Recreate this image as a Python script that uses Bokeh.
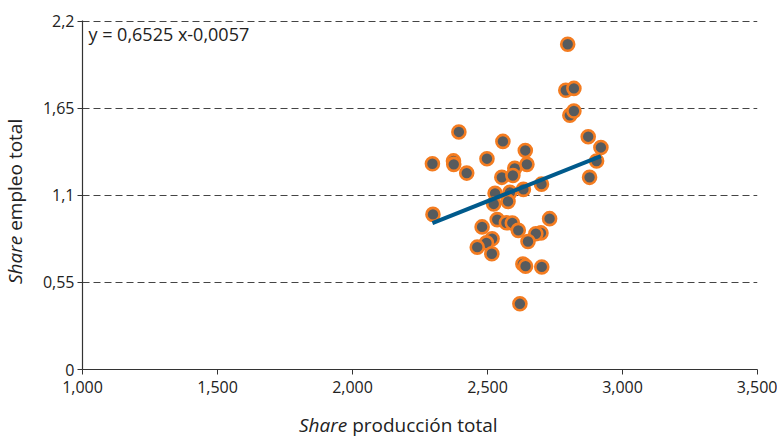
import numpy as np
from bokeh.plotting import figure
from bokeh.models import Label, FixedTicker, CustomJSTickFormatter, Range1d, Div
from bokeh.layouts import row, column
from bokeh.embed import file_html
from bokeh.resources import INLINE

# Data
share_produccion = [2.797, 2.790, 2.820, 2.805, 2.820, 2.394, 2.557, 2.873, 2.920, 2.640,
                    2.296, 2.374, 2.375, 2.423, 2.498, 2.601, 2.646, 2.553, 2.594, 2.904,
                    2.878, 2.700, 2.633, 2.583, 2.528, 2.298, 2.523, 2.576, 2.480, 2.536,
                    2.570, 2.592, 2.614, 2.730, 2.698, 2.679, 2.650, 2.517, 2.496, 2.462,
                    2.516, 2.631, 2.641, 2.701, 2.620]
share_empleo = [2.055, 1.764, 1.776, 1.606, 1.633, 1.501, 1.441, 1.471, 1.403, 1.384,
                1.300, 1.318, 1.296, 1.241, 1.332, 1.271, 1.296, 1.214, 1.226, 1.317,
                1.214, 1.171, 1.138, 1.119, 1.113, 0.980, 1.046, 1.062, 0.901, 0.947,
                0.927, 0.926, 0.879, 0.953, 0.863, 0.858, 0.809, 0.826, 0.800, 0.773,
                0.731, 0.667, 0.653, 0.648, 0.415]
x_ticks = [1.0, 1.5, 2.0, 2.5, 3.0, 3.5]
y_ticks = [0, 0.55, 1.1, 1.65, 2.2]
equation = "y = 0,6525 x-0,0057"
x_label = ("Share", "producción total")
y_label = ("Share", "empleo total")

FONT = "Open Sans"
TXT = "#222222"

p = figure(width=747, height=400, output_backend="svg", toolbar_location=None,
           x_range=Range1d(1.0, 3.5), y_range=Range1d(0, 2.205),
           min_border_left=52, min_border_right=20, min_border_top=20, min_border_bottom=31,
           margin=0)
p.outline_line_color = None
p.background_fill_color = "white"

# grid
p.xgrid.grid_line_color = None
p.ygrid.grid_line_color = "#444444"
p.ygrid.grid_line_dash = "7 4"
p.ygrid.grid_line_width = 1
p.ygrid.ticker = FixedTicker(ticks=y_ticks)

# axes
for ax in (p.xaxis[0], p.yaxis[0]):
    ax.axis_line_color = "#333333"
    ax.axis_line_width = 1.2
    ax.major_tick_line_color = "#333333"
    ax.major_tick_out = 5
    ax.major_tick_in = 0
    ax.minor_tick_line_color = None
    ax.major_label_text_font = FONT
    ax.major_label_text_font_size = "16px"
    ax.major_label_text_color = TXT
p.xaxis.ticker = FixedTicker(ticks=x_ticks)
p.yaxis.ticker = FixedTicker(ticks=y_ticks)
p.xaxis.formatter = CustomJSTickFormatter(code="return tick.toFixed(3).replace('.', ',');")
p.yaxis.formatter = CustomJSTickFormatter(code="return (Math.round(tick*100)/100).toString().replace('.', ',');")
p.xaxis.major_label_standoff = 6
p.yaxis.major_label_standoff = 3

# scatter
p.scatter(share_produccion, share_empleo, size=13, fill_color="#575b5e",
          line_color="#f47c20", line_width=2.6)

# trend line computed from data
xs = np.array(share_produccion)
ys = np.array(share_empleo)
m, b = np.polyfit(xs, ys, 1)
lx = np.array([xs.min(), xs.max()])
p.line(lx, m * lx + b, line_color="#005a8c", line_width=4)

# equation label
p.add_layout(Label(x=1.022, y=2.12, text=equation, text_font=FONT, text_font_size="18px",
                   text_color=TXT, text_baseline="middle"))

# axis titles as HTML (mixed italic / normal)
ylab = Div(width=30, height=400, margin=0,
           text=(f'<div style="writing-mode: vertical-rl; transform: rotate(180deg); '
                 f'height: 400px; width: 30px; line-height: 30px; text-align: center; '
                 f'padding-bottom: 3px; box-sizing: border-box; white-space: nowrap; '
                 f'font-family: \'{FONT}\'; font-size: 19px; color: {TXT};">'
                 f'<i>{y_label[0]}</i> {y_label[1]}</div>'))
xlab = Div(width=777, height=38, margin=0,
           text=(f'<div style="width: 777px; padding-left: 299px; padding-top: 13px; '
                 f'line-height: 24px; white-space: nowrap; box-sizing: border-box; '
                 f'font-family: \'{FONT}\'; font-size: 19px; color: {TXT};">'
                 f'<i>{x_label[0]}</i> {x_label[1]}</div>'))

layout = column(row(ylab, p, spacing=0, margin=0), xlab, spacing=0, margin=0)

open("out.html", "w").write(file_html(layout, INLINE))
